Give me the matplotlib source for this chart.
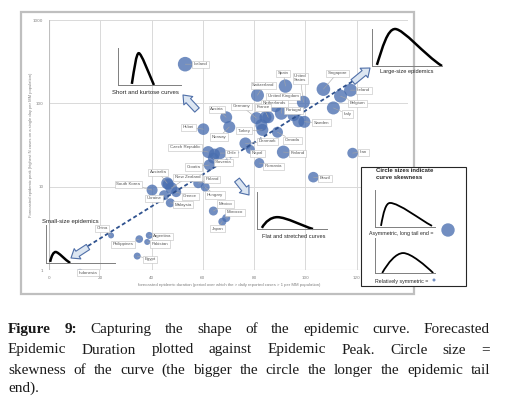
import numpy as np
import matplotlib.pyplot as plt
from matplotlib.patches import Rectangle, Circle, PathPatch
from matplotlib.path import Path

# country data
countries = ["Iceland", "Switzerland", "Spain", "United\nStates", "Singapore", "Ireland",
             "Belgium", "Italy", "Sweden", "United Kingdom", "Netherlands", "Portugal",
             "France", "Germany", "Austria", "Norway", "Hubei", "Turkey", "Denmark",
             "Canada", "Finland", "Nepal", "Romania", "Iran", "Brazil", "Czech Republic",
             "Chile", "Slovenia", "Croatia", "Poland", "Hungary", "Mexico", "Morocco",
             "Japan", "Australia", "New Zealand", "South Korea", "Ukraine", "Greece",
             "Malaysia", "China", "Argentina", "Philippines", "Pakistan", "Egypt",
             "Indonesia", "", "", "", "", ""]
duration = [53.1, 81.3, 92.2, 99.2, 107.0, 117.6, 113.7, 110.9, 99.6, 90.6, 88.3, 95.3,
            85.5, 80.9, 69.1, 70.3, 60.2, 83.2, 76.6, 89.1, 91.4, 78.5, 82.0, 118.4,
            103.1, 62.1, 66.8, 64.1, 62.5, 58.2, 60.9, 64.1, 69.1, 67.6, 46.1, 47.7,
            40.2, 44.9, 49.6, 47.3, 24.2, 39.1, 35.2, 38.3, 34.4, 12.1,
            84.4, 82.8, 97.3, 64.5, 46.5]
peak = [295, 125, 161, 103, 148, 144, 122, 88, 60, 76, 92.5, 72, 68, 66.5, 68, 52, 49,
        48, 33, 45, 26, 28, 19.2, 25.3, 13, 26, 25.3, 22, 18.2, 11, 9.9, 5.1, 4.2, 3.8,
        11, 9.6, 9.1, 7.9, 8.6, 6.4, 2.6, 2.6, 2.35, 2.17, 1.47, 0.95,
        68, 54.8, 61, 24.6, 10.7]
skewness = [7.3, 6.5, 6.7, 6.5, 6.8, 6.5, 6.5, 6.5, 6.0, 6.5, 6.0, 6.0, 6.0, 6.0, 6.0,
            6.0, 5.8, 6.0, 6.0, 5.5, 6.5, 4.5, 5.0, 5.3, 5.3, 6.0, 6.0, 5.5, 5.5, 5.0,
            4.5, 4.5, 4.0, 4.0, 6.0, 6.0, 5.5, 5.0, 5.0, 4.5, 3.0, 3.5, 3.8, 3.0, 3.5,
            3.0, 6.0, 6.0, 6.0, 5.5, 5.5]

# trend line (dashed)
trend_x = [15.2, 120.3]
trend_y = [1.94, 200]

x_ticks = [0, 20, 40, 60, 80, 100, 120]
y_ticks = [1, 10, 100, 1000]

# label offsets in pixels (dx right, dy down)
label_off = [(15, 0), (6, -10), (-2, -13), (-3, -24), (14, -16), (13, 0), (17, 7), (14, 6),
             (17, 1), (2, -17), (-1, -3), (0, -5), (-5, -10), (-15, -12), (-9, -8),
             (-10, 10), (-15, -2), (-18, 1), (22, -2), (15, 8), (14, 1), (7, 4), (14, 3),
             (11, -1), (12, 1), (-23, -5), (11, 0), (10, 4), (-16, 2), (14, -4), (10, 8),
             (12, -7), (9, -6), (-5, 7), (-9, -11), (16, -11), (-24, -6), (-10, 3),
             (14, 4), (13, 2), (-9, -7), (13, 1), (-16, 5), (13, 2), (13, 3), (8, 1),
             (0, 0), (0, 0), (0, 0), (0, 0), (0, 0)]

W, H = 509, 397
fig = plt.figure(figsize=(W / 100, H / 100), dpi=100)


def box(x0, y0, x1, y1):
    return [x0 / W, 1 - y1 / H, (x1 - x0) / W, (y1 - y0) / H]


blue = "#4a6fb0"
grey_txt = "#595959"

ax = fig.add_axes(box(49, 20, 408, 270))
ax.set_yscale("log")
ax.set_xlim(0, 140)
ax.set_ylim(1, 1000)
for s in ax.spines.values():
    s.set_visible(False)
ax.axhline(1, color="#bfbfbf", lw=0.8, zorder=0.5)
ax.axvline(0, color="#bfbfbf", lw=0.8, zorder=0.5)
for v in x_ticks[1:] + [140]:
    ax.axvline(v, color="#d9d9d9", lw=0.7, zorder=0)
for v in y_ticks[1:]:
    ax.axhline(v, color="#d9d9d9", lw=0.7, zorder=0)
ax.set_xticks(x_ticks)
ax.set_xticklabels([str(v) for v in x_ticks])
ax.set_yticks(y_ticks)
ax.set_yticklabels([str(v) for v in y_ticks])
ax.yaxis.set_minor_locator(plt.NullLocator())
ax.tick_params(length=0, labelsize=3, labelcolor="#7f7f7f", pad=4)

sizes = [(1.44 * r) ** 2 for r in skewness]
ax.scatter(duration, peak, s=sizes, color=blue, alpha=0.78, linewidths=0, zorder=2)
ax.plot(trend_x, trend_y, color="#2f528f", lw=1.3, ls=(0, (2.2, 1.5)), zorder=2.5)

for name, x, y, (dx, dy) in zip(countries, duration, peak, label_off):
    if not name:
        continue
    ax.annotate(name, xy=(x, y), xytext=(dx * 0.72, -dy * 0.72), textcoords="offset points",
                ha="center", va="center", fontsize=3.2, color=grey_txt,
                family="Liberation Sans", linespacing=1.1, annotation_clip=False,
                bbox=dict(boxstyle="square,pad=0.35", fc="white", ec="#bfbfbf", lw=0.4),
                arrowprops=dict(arrowstyle="-", color="#a6a6a6", lw=0.4,
                                shrinkA=0, shrinkB=0),
                zorder=3)

# overlay in pixel coordinates for frame, notes and caption
ov = fig.add_axes([0, 0, 1, 1], zorder=5)
ov.set_xlim(0, W)
ov.set_ylim(H, 0)
ov.axis("off")

ov.add_patch(Rectangle((21, 12), 393, 282, fill=False, ec="#bfbfbf", lw=1.6))
ov.text(31, 145, "Forecasted epidemic peak (highest N cases on a single day per MM population)",
        rotation=90, ha="center", va="center", fontsize=3, color="#7f7f7f",
        family="Liberation Sans")
ov.text(229, 285, "forecasted epidemic duration (period over which the > daily reported cases > 1 per MM population)",
        ha="center", va="center", fontsize=3.1, color="#7f7f7f", family="Liberation Sans")

arrow_style = "simple,head_length=0.7,head_width=1.1,tail_width=0.55"
for tail, tip in [((88, 247), (71, 258)), ((197, 110), (183, 95)),
                  ((353, 82), (370, 68)), ((237, 180), (249, 195))]:
    ov.annotate("", xy=tip, xytext=tail,
                arrowprops=dict(arrowstyle=arrow_style, mutation_scale=8,
                                fc="#dce6f2", ec="#4f6fa8", lw=0.8, shrinkA=0, shrinkB=0))

note_kw = dict(ha="center", va="center", color="#262626", family="Liberation Sans")
ov.text(145, 93, "Short and kurtose curves", fontsize=4.3, **note_kw)
ov.text(407, 72, "Large-size epidemics", fontsize=4.1, **note_kw)
ov.text(70, 221, "Small-size epidemics", fontsize=4.3, **note_kw)
ov.text(294, 237, "Flat and stretched curves", fontsize=4.1, **note_kw)

# legend box
ov.add_patch(Rectangle((361, 167), 105, 119, fc="white", ec="#262626", lw=0.8, zorder=3))
ov.text(376, 168, "Circle sizes indicate\ncurve skewness", ha="left", va="top", fontsize=4.3,
        weight="bold", color="#262626", family="Liberation Sans", linespacing=1.5, zorder=4)
ov.text(401, 233, "Asymmetric, long tail end =", fontsize=3.8, zorder=4, **note_kw)
ov.text(402, 282, "Relatively symmetric =", fontsize=3.8, zorder=4, **note_kw)
ov.add_patch(Circle((448, 230), 6.7, color=blue, alpha=0.78, lw=0, zorder=4))
ov.add_patch(Circle((434, 280), 1.5, color=blue, alpha=0.78, lw=0, zorder=4))


def sketch(rect, verts, lw):
    a = fig.add_axes(box(*rect), zorder=6)
    a.set_xlim(0, 1)
    a.set_ylim(0, 1)
    a.patch.set_visible(False)
    a.spines["top"].set_visible(False)
    a.spines["right"].set_visible(False)
    for s in ["left", "bottom"]:
        a.spines[s].set_color("#7f7f7f")
        a.spines[s].set_linewidth(0.7)
    a.set_xticks([])
    a.set_yticks([])
    codes = [Path.MOVETO] + [Path.CURVE4] * (len(verts) - 1)
    a.add_patch(PathPatch(Path(verts, codes), fill=False, lw=lw, ec="black",
                          capstyle="butt", clip_on=False))


sketch((118, 48, 181, 85), [(0.22, 0.03), (0.26, 0.45), (0.29, 0.86), (0.33, 0.86),
                            (0.37, 0.86), (0.48, 0.35), (0.57, 0.0)], 1.8)
sketch((372, 29, 442, 66), [(0.07, 0.03), (0.15, 0.5), (0.22, 1.0), (0.33, 1.0),
                            (0.45, 1.0), (0.75, 0.3), (1.0, 0.0)], 1.8)
sketch((46, 225, 115, 263), [(0.06, 0.03), (0.08, 0.2), (0.11, 0.29), (0.14, 0.29),
                             (0.18, 0.29), (0.28, 0.08), (0.35, 0.0)], 1.8)
sketch((257, 192, 327, 229), [(0.07, 0.03), (0.12, 0.2), (0.2, 0.32), (0.29, 0.32),
                              (0.42, 0.32), (0.65, 0.08), (0.8, 0.0)], 1.8)
sketch((375, 190, 435, 227), [(0.1, 0.03), (0.14, 0.4), (0.18, 0.65), (0.25, 0.65),
                              (0.4, 0.65), (0.75, 0.2), (0.95, 0.03)], 1.3)
sketch((375, 238, 435, 273), [(0.12, 0.0), (0.22, 0.3), (0.35, 0.57), (0.47, 0.57),
                              (0.6, 0.57), (0.85, 0.2), (0.97, 0.0)], 1.3)

# caption, justified
caption_lines = [
    "Figure 9: Capturing the shape of the epidemic curve. Forecasted",
    "Epidemic Duration plotted against Epidemic Peak. Circle size =",
    "skewness of the curve (the bigger the circle the longer the epidemic tail",
    "end).",
]
baselines = [333, 353.5, 374, 392]
left_x, right_x = 8, 490
renderer = fig.canvas.get_renderer()
for i, line in enumerate(caption_lines):
    words = line.split()
    texts = []
    for j, w in enumerate(words):
        t = ov.text(0, baselines[i], w, fontsize=11, family="Liberation Serif",
                    weight="bold" if (i == 0 and j < 2) else "normal",
                    color="#1a1a1a", ha="left", va="baseline")
        texts.append(t)
    widths = [t.get_window_extent(renderer).width for t in texts]
    if i < len(caption_lines) - 1:
        gap = (right_x - left_x - sum(widths)) / (len(words) - 1)
    else:
        gap = 3
    x = left_x
    for t, wd in zip(texts, widths):
        t.set_x(x)
        x += wd + gap

fig.savefig("out.png", dpi=100)
